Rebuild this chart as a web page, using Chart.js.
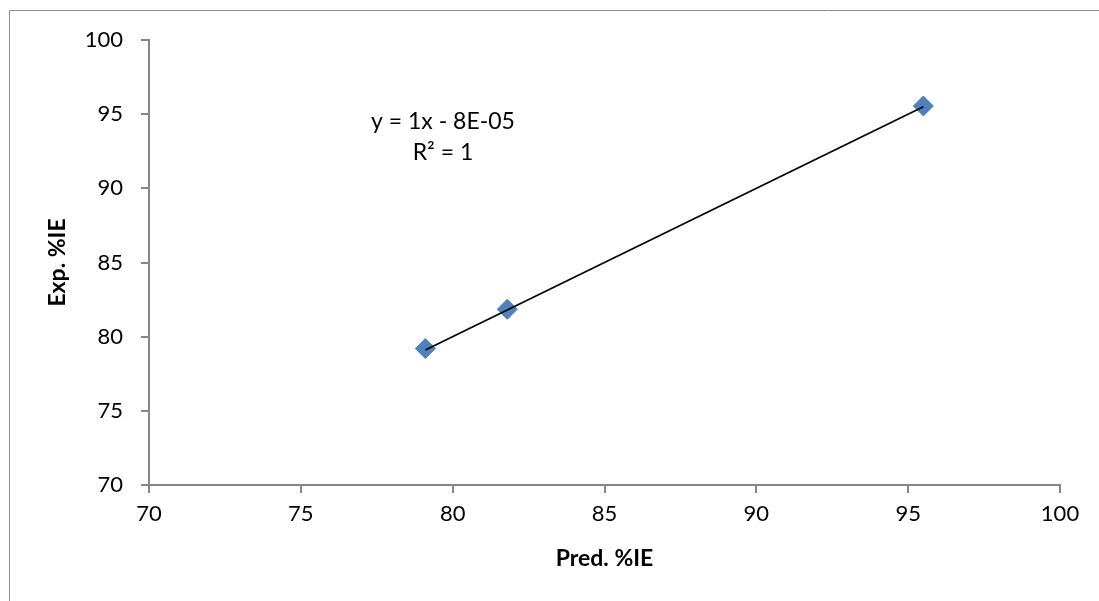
<!DOCTYPE html>
<html>
<head>
<meta charset="utf-8">
<script src="https://cdn.jsdelivr.net/npm/chart.js@4.4.1/dist/chart.umd.min.js"></script>
<style>
html,body{margin:0;padding:0;background:#fff;overflow:hidden;}
#wrap{width:1099px;height:601px;position:relative;overflow:hidden;}
canvas{display:block;}
</style>
</head>
<body>
<div id="wrap"><canvas id="c" width="1099" height="601"></canvas></div>
<script>
const predIE = [79.1, 81.8, 95.5];
const expIE = [79.2, 81.85, 95.55];
const trendSlope = 1;
const trendIntercept = -0.00008;
const equationLines = ['y = 1x - 8E-05', 'R² = 1'];
const xTitle = 'Pred. %IE';
const yTitle = 'Exp. %IE';
const axisMin = 70, axisMax = 100, axisStep = 5;

const pts = predIE.map((x, i) => ({x: x, y: expIE[i]}));
const xLo = Math.min(...predIE), xHi = Math.max(...predIE);
const trend = [{x: xLo, y: trendSlope * xLo + trendIntercept}, {x: xHi, y: trendSlope * xHi + trendIntercept}];

const FONT = 'Lato, "Open Sans", sans-serif';
const AXC = '#868686';

const frame = {
  id: 'frame',
  beforeDraw(chart) {
    const ctx = chart.ctx;
    ctx.save();
    ctx.fillStyle = '#fff';
    ctx.fillRect(0, 0, chart.width, chart.height);
    ctx.strokeStyle = '#8c8c8c';
    ctx.lineWidth = 1;
    ctx.beginPath();
    ctx.moveTo(9.5, chart.height + 5);
    ctx.lineTo(9.5, 10.5);
    ctx.lineTo(chart.width + 5, 10.5);
    ctx.stroke();
    ctx.restore();
  },
  afterDatasetsDraw(chart) {
    const ctx = chart.ctx;
    const xs = chart.scales.x, ys = chart.scales.y;
    const cx = xs.getPixelForValue(79.68);
    const cy = ys.getPixelForValue(94.47);
    ctx.save();
    ctx.fillStyle = '#000';
    ctx.font = '23px ' + FONT;
    ctx.textAlign = 'center';
    ctx.textBaseline = 'middle';
    equationLines.forEach((t, i) => ctx.fillText(t, cx, cy + i * 31));
    ctx.restore();
  }
};

new Chart(document.getElementById('c'), {
  type: 'scatter',
  data: {
    datasets: [
      {
        type: 'line',
        data: trend,
        borderColor: '#000',
        borderWidth: 1.75,
        pointRadius: 0,
        fill: false,
        order: 0
      },
      {
        data: pts,
        pointStyle: 'rectRot',
        pointRadius: 10,
        pointHoverRadius: 10,
        backgroundColor: '#4F81BD',
        borderColor: '#4A7EBB',
        borderWidth: 1,
        order: 1
      }
    ]
  },
  plugins: [frame],
  options: {
    responsive: false,
    animation: false,
    devicePixelRatio: 1,
    layout: {padding: {left: 0, right: 39, top: 40, bottom: 0}},
    plugins: {legend: {display: false}, tooltip: {enabled: false}},
    scales: {
      x: {
        type: 'linear',
        min: axisMin, max: axisMax,
        ticks: {stepSize: axisStep, color: '#000', font: {family: FONT, size: 22}, padding: 8, maxRotation: 0},
        grid: {drawOnChartArea: false, drawTicks: true, tickLength: 8, color: AXC, lineWidth: 2},
        border: {display: true, color: AXC, width: 2},
        title: {display: true, text: xTitle, color: '#000', font: {family: FONT, size: 23, weight: 'bold'}, padding: {top: 0, bottom: 29}},
        afterFit(s) { s.height = 116; }
      },
      y: {
        type: 'linear',
        min: axisMin, max: axisMax,
        ticks: {stepSize: axisStep, color: '#000', font: {family: FONT, size: 22}, padding: 18},
        grid: {drawOnChartArea: false, drawTicks: true, tickLength: 8, color: AXC, lineWidth: 2},
        border: {display: true, color: AXC, width: 2},
        title: {display: true, text: yTitle, color: '#000', font: {family: FONT, size: 23, weight: 'bold'}, padding: {top: 44, bottom: 0}},
        afterFit(s) { s.width = 149; }
      }
    }
  }
});
</script>
</body>
</html>
